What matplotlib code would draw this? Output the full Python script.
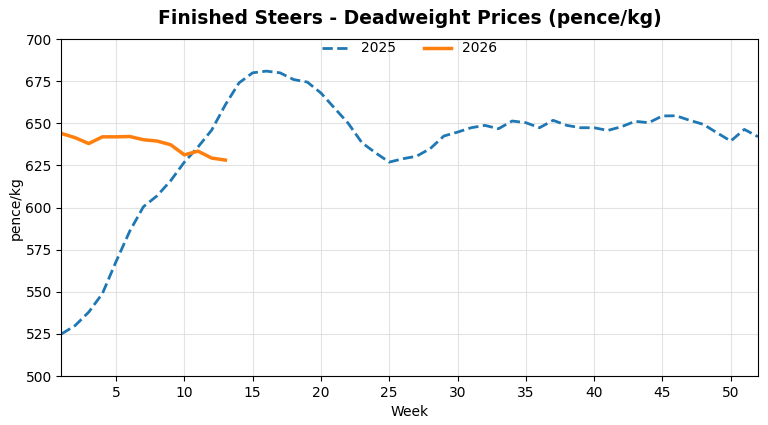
import matplotlib
matplotlib.use("Agg")
import matplotlib.pyplot as plt

weeks_2025 = list(range(1, 53))
prices_2025 = [525, 530, 538, 549, 568, 586, 600.5, 607, 616, 627,
               636, 646, 661, 674, 680, 681, 680, 676, 674.5, 668,
               659, 650, 638.5, 632.5, 627, 629, 630.5, 635, 642.5, 644.8,
               647.4, 648.8, 646.8, 651.4, 650.4, 647.4, 651.8, 648.8, 647.4, 647.4,
               645.8, 648, 651.2, 650.4, 654.4, 654.5, 651.8, 649.4, 644.4, 639.5,
               646.4, 642.1]
weeks_2026 = list(range(1, 14))
prices_2026 = [644, 641.5, 638, 642, 642, 642.2, 640.3, 639.5, 637.3, 631.3,
               633.5, 629.4, 628.2]

fig, ax = plt.subplots(figsize=(7.68, 4.25), dpi=100)
ax.plot(weeks_2025, prices_2025, linestyle="--", color="#1f77b4", linewidth=2, label="2025")
ax.plot(weeks_2026, prices_2026, linestyle="-", color="#ff7f0e", linewidth=2.5, label="2026")

ax.set_xlim(1, 52)
ax.set_ylim(500, 700)
ax.set_xticks([5, 10, 15, 20, 25, 30, 35, 40, 45, 50])
ax.set_yticks(range(500, 701, 25))
ax.grid(True, color="#dddddd", linewidth=0.8, alpha=0.8)
ax.set_xlabel("Week")
ax.set_ylabel("pence/kg", labelpad=2)
ax.set_title("Finished Steers - Deadweight Prices (pence/kg)", fontsize=13.5, fontweight="bold", pad=11)
ax.legend(loc="upper center", ncol=2, frameon=False, bbox_to_anchor=(0.5, 1.03),
          handlelength=2.0, columnspacing=2.0)

fig.subplots_adjust(left=0.08, right=0.987, top=0.908, bottom=0.115)
fig.savefig("out.png", dpi=100)
